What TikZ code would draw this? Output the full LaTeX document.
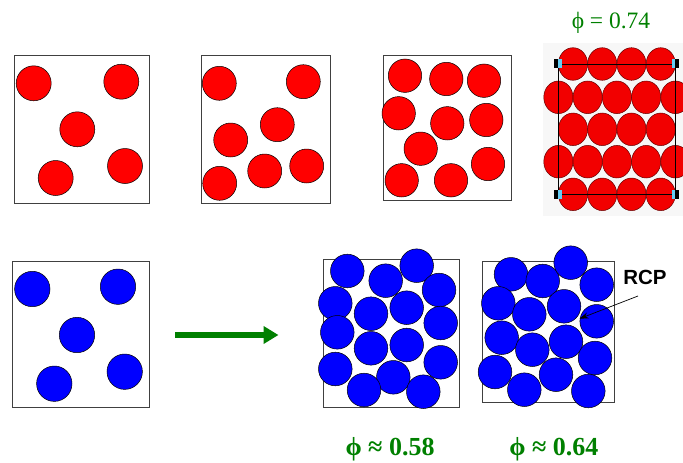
\documentclass[tikz,border=0pt]{standalone}
\usepackage{fontspec}
\setmainfont{Liberation Serif}
\setsansfont{Liberation Sans}
\usetikzlibrary{arrows.meta}

\begin{document}
\begin{tikzpicture}[
  x=1pt, y=-1pt,
  box/.style={draw=black!75,line width=0.8pt},
  redball/.style={draw=black,line width=0.5pt,fill=red},
  blueball/.style={draw=black,line width=0.5pt,fill=blue},
  hexball/.style={draw=red!40!black,line width=0.5pt,fill=red!95!black},
  phitop/.style={text=green!50!black,anchor=base,font=\fontsize{23.5}{25}\selectfont},
  phibot/.style={text=green!50!black,anchor=base,font=\fontsize{26}{28}\selectfont\bfseries},
  arr/.style={-{Stealth[length=9pt,width=6pt]},line width=0.7pt}
]
\useasboundingbox (0,0) rectangle (683,463);

% Dilute red boxes
\draw[box] (14,55) rectangle (149,203);
\foreach \cx/\cy in {33.7/83.3, 121.3/81.7, 77.3/129.3, 55.7/178, 125/166}
  \draw[redball] (\cx,\cy) circle[radius=17.5pt];

\draw[box] (201,55) rectangle (330,203);
\foreach \cx/\cy in {219.3/83.3, 303.3/81.7, 277.3/124.7, 230.7/140, 219.7/183.3, 264.7/171, 306.7/166}
  \draw[redball] (\cx,\cy) circle[radius=17pt];

\draw[box] (383,55) rectangle (511,200);
\foreach \cx/\cy in {405/75.7, 446.3/79, 484/80.7, 398.7/113.3, 447.3/123.3, 486.3/120, 420.7/148.7, 488/164, 401.7/180.3, 451/180.3}
  \draw[redball] (\cx,\cy) circle[radius=16.7pt];

% Hexagonal packing
\fill[black!3] (543,43) rectangle (683,216);
\foreach \row/\cy in {0/64, 2/129.3, 4/194.3}
  \foreach \i in {0,...,3}
    \draw[hexball] (573+29.25*\i,\cy) ellipse[x radius=14.6pt, y radius=16.3pt];
\foreach \row/\cy in {1/97.3, 3/161.7}
  \foreach \i in {0,...,4}
    \draw[hexball] (558.4+29.25*\i,\cy) ellipse[x radius=14.6pt, y radius=16.3pt];
\draw[line width=0.5pt] (558.3,64) rectangle (675.3,194.5);
\foreach \hy in {63.5, 194.5} {
  \fill[black] (554.3,\hy-4.7) rectangle (558.3,\hy+4.7);
  \fill[cyan!60] (558.3,\hy-4.7) rectangle (562.3,\hy+4.7);
  \fill[cyan!60] (671.5,\hy-4.7) rectangle (675.3,\hy+4.7);
  \fill[black] (675.3,\hy-4.7) rectangle (679.3,\hy+4.7);
}
\node[phitop] (phihex) at (611,28.3) {ϕ = 0.74};

% Dilute blue box
\draw[box] (12.7,261) rectangle (149.3,407.7);
\foreach \cx/\cy in {32.3/289, 118/286.7, 77/335, 54.3/383.7, 124.7/371.7}
  \draw[blueball] (\cx,\cy) circle[radius=17.7pt];

% Compression arrow
\coordinate (arrstart) at (175,335);
\coordinate (arrend) at (278.5,335);
\draw[green!50!black,line width=6pt,-{Triangle[length=15pt,width=17pt]}] (arrstart) -- (arrend);

% Random loose packing
\draw[box] (323.3,259.3) rectangle (459.3,407.7);
\foreach \cx/\cy in {347.3/271, 385.7/280.7, 416.7/265.7, 335.3/303.3, 439/290, 371/313.7, 406.7/307.7, 440.7/323, 337.3/332.3, 371/348.3, 406.7/345, 335.3/369, 440.7/362.3, 393.3/377.3, 364/390, 423.3/391.7}
  \draw[blueball] (\cx,\cy) circle[radius=16.8pt];
\node[phibot] (philoose) at (390,455) {ϕ ≈ 0.58};

% Random close packing
\draw[box] (482.3,261.3) rectangle (614,402.7);
\foreach \cx/\cy in {511/274.3, 542.7/281, 570.7/262.7, 596.7/284.7, 498.3/303.3, 529.3/314.3, 564/306.3, 596.7/321.3, 501.7/337.7, 532.3/349.7, 566/341.7, 595/358, 495/372, 556/374.7, 524.3/389.7, 588.3/391}
  \draw[blueball] (\cx,\cy) circle[radius=16.8pt];
\node[phibot] (phiclose) at (553.8,455) {ϕ ≈ 0.64};

% RCP label
\node[font=\fontsize{20.5}{22}\sffamily\bfseries] (rcp) at (645,277.7) {RCP};
\coordinate (rcptail) at (638,296);
\coordinate (rcptip) at (579.5,318.7);
\draw[arr] (rcptail) -- (rcptip);

\end{tikzpicture}
\end{document}
